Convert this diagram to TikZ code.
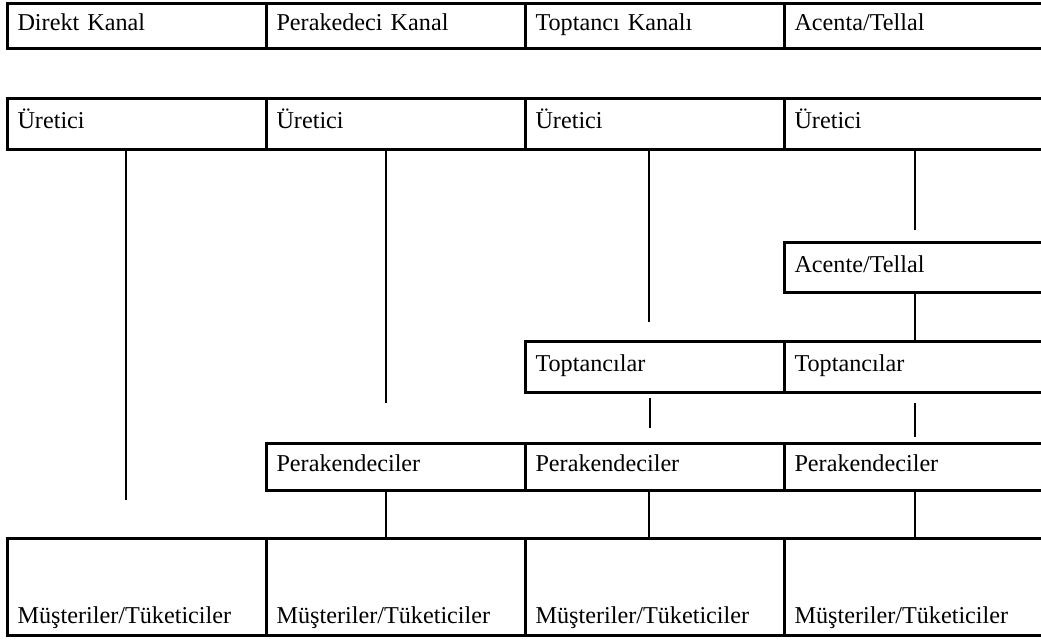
\documentclass[tikz,border=0pt]{standalone}
\usepackage{fontspec}
\setmainfont{Liberation Serif}
\usetikzlibrary{positioning}

\tikzset{
  cell/.style={draw, line width=3pt, outer sep=0pt, inner xsep=10.5pt, inner ysep=0pt,
    minimum height=#1, text width=238pt, align=left,
    text height=18pt, text depth=8pt, font=\fontsize{24.2}{29}\selectfont},
  cell/.default=50pt,
  lowcell/.style={cell=97pt, text height=85pt, text depth=12pt},
  link/.style={line width=1.5pt},
}

\begin{document}
\begin{tikzpicture}[x=1pt,y=-1pt]
\useasboundingbox (0,0) rectangle (1041,641);

\node[cell=45pt, anchor=north west] (h1) at (7,3) {Direkt Kanal};
\node[cell=45pt, right=0pt of h1] (h2) {Perakedeci Kanal};
\node[cell=45pt, right=0pt of h2] (h3) {Toptancı Kanalı};
\node[cell=45pt, right=0pt of h3] (h4) {Acenta/Tellal};

\node[cell=51pt, anchor=north west] (u1) at (7,98) {Üretici};
\node[cell=51pt, right=0pt of u1] (u2) {Üretici};
\node[cell=51pt, right=0pt of u2] (u3) {Üretici};
\node[cell=51pt, right=0pt of u3] (u4) {Üretici};

\node[cell, anchor=north west] (ac) at (784,242) {Acente/Tellal};

\node[cell=51pt, anchor=north west] (t3) at (525,341) {Toptancılar};
\node[cell=51pt, right=0pt of t3] (t4) {Toptancılar};

\node[cell=47pt, anchor=north west] (p2) at (266,443) {Perakendeciler};
\node[cell=47pt, right=0pt of p2] (p3) {Perakendeciler};
\node[cell=47pt, right=0pt of p3] (p4) {Perakendeciler};

\node[lowcell, anchor=north west] (m1) at (7,538) {Müşteriler/Tüketiciler};
\node[lowcell, right=0pt of m1] (m2) {Müşteriler/Tüketiciler};
\node[lowcell, right=0pt of m2] (m3) {Müşteriler/Tüketiciler};
\node[lowcell, right=0pt of m3] (m4) {Müşteriler/Tüketiciler};

\coordinate (k1) at (126,500);
\coordinate (k2) at (386,403);
\coordinate (k3) at (649,322);
\coordinate (k4) at (915,230);
\coordinate (j3a) at (650,398);
\coordinate (j3b) at (650,428);
\coordinate (j4a) at (915,403);
\coordinate (j4b) at (915,437);

\foreach \i in {1,...,4}
  \draw[link] (u\i.south -| k\i) -- (k\i);
\draw[link] (ac.south -| k4) -- (t4.north -| k4);
\draw[link] (j3a) -- (j3b);
\draw[link] (j4a) -- (j4b);
\foreach \i in {2,3,4}
  \draw[link] (p\i.south -| k\i) -- (m\i.north -| k\i);
\end{tikzpicture}
\end{document}
